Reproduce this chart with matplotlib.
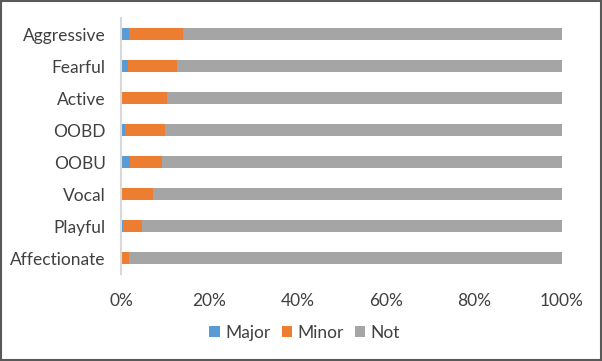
import matplotlib.pyplot as plt
import numpy as np

# categories top to bottom
categories = ["Aggressive", "Fearful", "Active", "OOBD", "OOBU", "Vocal", "Playful", "Affectionate"]
major = [1.8, 1.5, 0.0, 1.0, 2.0, 0.2, 0.4, 0.0]
minor = [12.3, 11.3, 10.4, 9.0, 7.3, 7.1, 4.4, 1.8]
not_ = [100 - a - b for a, b in zip(major, minor)]

plt.rcParams['font.family'] = ['Lato', 'DejaVu Sans']

fig = plt.figure(figsize=(6.02, 3.61), dpi=100)
ax = fig.add_axes([0.201, 0.241, 0.7326, 0.709])

y = np.arange(len(categories))
h = 0.4
ax.barh(y, major, h, color="#5B9BD5", label="Major")
ax.barh(y, minor, h, left=major, color="#ED7D31", label="Minor")
left2 = [a + b for a, b in zip(major, minor)]
ax.barh(y, not_, h, left=left2, color="#A5A5A5", label="Not")

ax.set_ylim(len(categories) - 0.5, -0.5)
ax.set_xlim(0, 100)
ax.set_yticks(y)
ax.set_yticklabels(categories, fontsize=12.5, color="#404040")
ax.set_xticks([0, 20, 40, 60, 80, 100])
ax.set_xticklabels(["0%", "20%", "40%", "60%", "80%", "100%"], fontsize=12.5, color="#404040")
ax.tick_params(axis="y", length=0, pad=11)
ax.tick_params(axis="x", length=0, pad=14)
for s in ["top", "right", "bottom"]:
    ax.spines[s].set_visible(False)
ax.spines["left"].set_color("#D9D9D9")
ax.spines["left"].set_linewidth(1.5)

fig.legend(loc="center", bbox_to_anchor=(0.506, 0.078), ncol=3, frameon=False,
           fontsize=12.5, handlelength=0.6, handleheight=0.6, handletextpad=0.3,
           columnspacing=0.65, labelcolor="#404040")

fig.patches.append(plt.Rectangle((0.002, 0.003), 0.996, 0.994, transform=fig.transFigure,
                                 fill=False, edgecolor="#595959", linewidth=1.5))

fig.savefig("out.png", dpi=100)
